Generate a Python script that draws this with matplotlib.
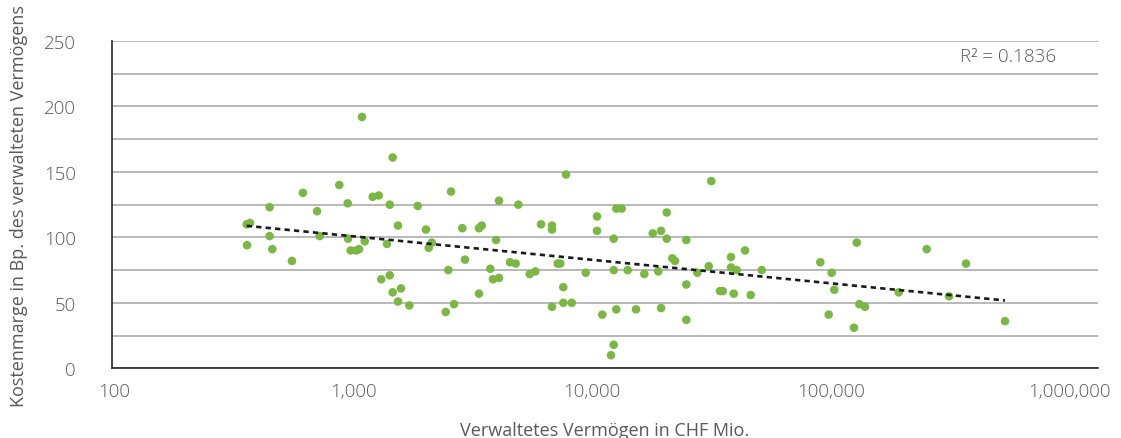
import numpy as np
import matplotlib
matplotlib.use("Agg")
import matplotlib.pyplot as plt
import matplotlib.transforms as mtransforms
from matplotlib.ticker import FuncFormatter, MultipleLocator

# Verwaltetes Vermoegen (CHF Mio.) und Kostenmarge (Bp.)
aum = [352, 363, 353, 436, 436, 447, 537, 595, 679, 696,
       836, 904, 907, 930, 977, 1005, 1033, 1060, 1142, 1208,
       1237, 1339, 1339, 1305, 1376, 1376, 1446, 1446, 1487, 1607,
       1739, 1878, 1982, 1927, 2258, 2314, 2373, 2440, 2637, 2704,
       3082, 3082, 3161, 3425, 3512, 3715, 3613, 3715, 4118, 4342,
       4449, 4949, 5214, 5502, 6095, 6095, 6095, 6428, 6587, 6774,
       6774, 6947, 7329, 8350, 9280, 9280, 9750, 10575, 10846, 10846,
       10846, 11112, 11687, 11112, 12362, 13359, 14434, 15614, 16878, 16457,
       16878, 17797, 17797, 18750, 19230, 21370, 21370, 21370, 23680, 26350,
       26990, 29280, 30030, 32450, 32450, 34220, 33270, 36980, 39000, 43230,
       74700, 83100, 80800, 85140, 105000, 107550, 113430, 102350, 155400, 201800,
       248600, 291400, 419500]
margin = [110, 111, 94, 123, 101, 91, 82, 134, 120, 101,
          140, 126, 99, 90, 90, 91, 192, 97, 131, 132,
          68, 125, 71, 95, 161, 58, 109, 51, 61, 48,
          124, 106, 96, 92, 43, 75, 135, 49, 107, 83,
          57, 107, 109, 76, 68, 69, 98, 128, 81, 80,
          125, 72, 74, 110, 109, 106, 47, 80, 80, 62,
          50, 148, 50, 73, 116, 105, 41, 10, 18, 75,
          99, 122, 122, 45, 75, 45, 72, 103, 105, 74,
          46, 119, 99, 84, 82, 98, 64, 37, 73, 78,
          143, 59, 59, 85, 77, 75, 57, 90, 56, 75,
          81, 73, 41, 60, 96, 49, 47, 31, 58, 91,
          55, 80, 36]
r2_text = "R² = 0.1836"

grey = "#595959"
plt.rcParams["font.family"] = ["Open Sans", "DejaVu Sans"]
plt.rcParams["font.weight"] = "light"

fig = plt.figure(figsize=(11.21, 4.39), dpi=100)
ax = fig.add_axes([0.0999, 0.1588, 0.8796, 0.7455])

ax.scatter(aum, margin, s=38, color="#7ab843", edgecolors="none", zorder=3)

# logarithmischer Trend wie in Excel
x = np.array(aum, dtype=float)
b, a = np.polyfit(np.log(x), margin, 1)
xt = np.array([x.min(), x.max()])
ax.plot(xt, a + b * np.log(xt), color="#1a1a1a", lw=1.9, dashes=(2, 1.6), zorder=4)

ax.set_xscale("log")
ax.set_xlim(100, 1e6)
ax.set_ylim(0, 250)
ax.xaxis.set_major_formatter(FuncFormatter(lambda v, p: f"{v:,.0f}"))
ax.xaxis.set_minor_locator(plt.NullLocator())
ax.yaxis.set_major_locator(MultipleLocator(50))
ax.yaxis.set_minor_locator(MultipleLocator(25))
ax.grid(axis="y", which="both", color="#a6a6a6", lw=1.1)
ax.set_axisbelow(True)

for s in ["top", "right"]:
    ax.spines[s].set_visible(False)
for s in ["left", "bottom"]:
    ax.spines[s].set_color("#262626")
    ax.spines[s].set_linewidth(1.2)
ax.tick_params(which="both", length=0, labelsize=13.5, labelcolor=grey)
ax.tick_params(axis="x", pad=10)
ax.tick_params(axis="y", pad=26)

# Excel rueckt die x-Beschriftungen etwas zusammen
for i, lab in enumerate(ax.get_xticklabels()):
    dx = (10 - 7.7 * i) / 100
    lab.set_transform(lab.get_transform() + mtransforms.ScaledTranslation(dx, 0, fig.dpi_scale_trans))

ax.set_xlabel("Verwaltetes Vermögen in CHF Mio.", fontsize=13, color=grey, labelpad=15)
ax.set_ylabel("Kostenmarge in Bp. des verwalteten Vermögens", fontsize=13, color=grey)
ax.yaxis.set_label_coords(-0.085, 0.5)
ax.text(0.909, 0.954, r2_text, transform=ax.transAxes, ha="center", va="center",
        fontsize=13.5, color=grey)

fig.savefig("out.png", dpi=100)
